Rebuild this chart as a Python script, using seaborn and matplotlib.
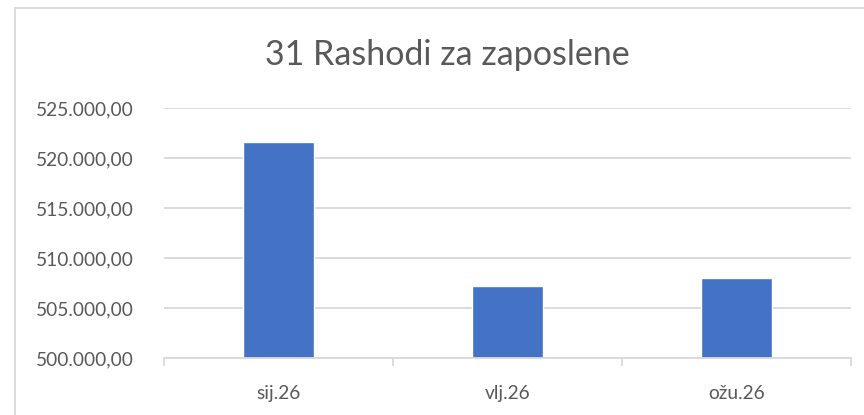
import matplotlib
matplotlib.use("Agg")
import matplotlib.pyplot as plt
import seaborn as sns
import pandas as pd
from matplotlib.ticker import FuncFormatter, FixedLocator
from matplotlib.lines import Line2D

# data
months = ["sij.26", "vlj.26", "ožu.26"]
expenses = [521600, 507230, 508000]
yticks = [500000, 505000, 510000, 515000, 520000, 525000]

sns.set_theme(style="white")
plt.rcParams["font.family"] = ["Lato", "DejaVu Sans"]

TEXT = "#595959"
GRID = "#D9D9D9"
BLUE = "#4472C4"

df = pd.DataFrame({"month": months, "value": expenses})

W, H = 864, 415
fig = plt.figure(figsize=(W / 100, H / 100), dpi=100)
ax = fig.add_axes([164 / W, 1 - 358.3 / H, 687 / W, 250 / H])

sns.barplot(data=df, x="month", y="value", color=BLUE, width=0.31,
            saturation=1, ax=ax)

ax.set_ylim(500000, 525000)
ax.set_xlim(-0.5, 2.5)
ax.set_yticks(yticks)
ax.yaxis.set_major_formatter(
    FuncFormatter(lambda v, _: f"{v:,.2f}".replace(",", " ").replace(".", ",").replace(" ", "."))
)
ax.yaxis.grid(True, color=GRID, linewidth=1.3)
ax.set_axisbelow(True)
ax.set_xlabel("")
ax.set_ylabel("")

for s in ["top", "right", "left"]:
    ax.spines[s].set_visible(False)
ax.spines["bottom"].set_color(GRID)
ax.spines["bottom"].set_linewidth(1.3)

ax.tick_params(axis="y", length=0, pad=22, labelsize=13.8, labelcolor=TEXT)
ax.tick_params(axis="x", which="major", length=0, pad=19, labelsize=13.8, labelcolor=TEXT)
ax.xaxis.set_minor_locator(FixedLocator([-0.5, 0.5, 1.5, 2.5]))
ax.tick_params(axis="x", which="minor", length=6, width=1.3, color=GRID, bottom=True)

fig.text(447 / W, 1 - 55 / H, "31 Rashodi za zaposlene", ha="center", va="center",
         fontsize=24.5, color=TEXT)

# chart-area border (only left and top edges visible in the crop)
fig.add_artist(Line2D([15 / W, 15 / W], [0, 1 - 8.5 / H], transform=fig.transFigure,
                      color=GRID, linewidth=1.3))
fig.add_artist(Line2D([15 / W, 1], [1 - 8.5 / H, 1 - 8.5 / H], transform=fig.transFigure,
                      color=GRID, linewidth=1.3))

fig.savefig("out.png", dpi=100)
